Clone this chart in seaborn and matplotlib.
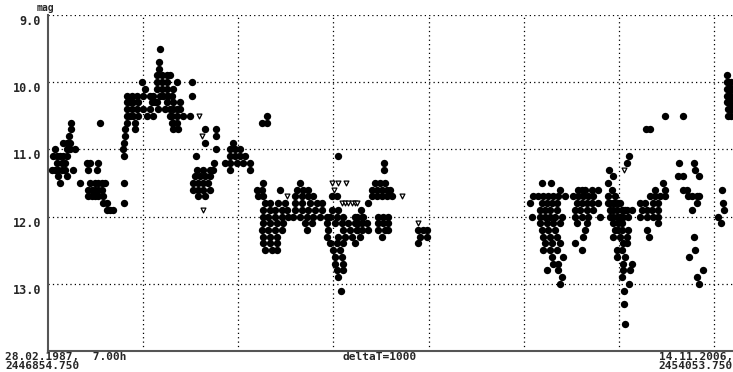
import matplotlib
matplotlib.use("Agg")
import matplotlib.pyplot as plt
import pandas as pd
import seaborn as sns

# light curve, days counted from JD 2446854.750
jd_start = 2446854.750
jd_end = 2454053.750
y_ticks = [9.0, 10.0, 11.0, 12.0, 13.0]
y_labels = ["9.0", "10.0", "11.0", "12.0", "13.0"]

season_1 = [
    (242, 10.6), (546, 10.6), (242, 10.7), (221, 10.8), (161, 10.9), (196, 10.9), (231, 10.9),
    (74, 11.0), (196, 11.0), (231, 11.0), (284, 11.0), (56, 11.1), (91, 11.1), (126, 11.1),
    (161, 11.1), (196, 11.1), (91, 11.2), (144, 11.2), (179, 11.2), (39, 11.3), (74, 11.3),
    (109, 11.3), (144, 11.3), (179, 11.3), (266, 11.3), (109, 11.4), (196, 11.4), (126, 11.5),
    (406, 11.2), (441, 11.2), (529, 11.2), (417, 11.3), (511, 11.3), (336, 11.5), (441, 11.5),
    (494, 11.5), (529, 11.5), (564, 11.5), (599, 11.5), (424, 11.6), (459, 11.6), (494, 11.6),
    (529, 11.6), (564, 11.6), (424, 11.7), (459, 11.7), (494, 11.7), (529, 11.7), (582, 11.7),
    (582, 11.8), (617, 11.8), (617, 11.9), (652, 11.9), (687, 11.9), (799, 11.5), (799, 11.8),
]

season_2 = [
    (802, 11.1), (792, 11.0), (802, 10.9), (809, 10.8), (809, 10.7), (914, 10.7), (827, 10.6),
    (914, 10.6), (827, 10.5), (862, 10.5), (897, 10.5), (949, 10.5), (827, 10.4), (879, 10.4),
    (932, 10.4), (827, 10.3), (862, 10.3), (897, 10.3), (949, 10.3), (827, 10.2), (879, 10.2),
    (932, 10.2), (1177, 9.5), (1170, 9.7), (1170, 9.8), (1142, 9.9), (1195, 9.9), (1247, 9.9),
    (1282, 9.9), (984, 10.0), (1142, 10.0), (1195, 10.0), (1247, 10.0), (1352, 10.0),
    (1510, 10.0), (1019, 10.1), (1142, 10.1), (1195, 10.1), (1247, 10.1), (1317, 10.1),
    (1002, 10.2), (1072, 10.2), (1107, 10.2), (1177, 10.2), (1212, 10.2), (1247, 10.2),
    (1265, 10.2), (1300, 10.2), (1510, 10.2), (1089, 10.3), (1124, 10.3), (1142, 10.3),
    (1247, 10.3), (1317, 10.3), (1387, 10.3), (1002, 10.4), (1072, 10.4), (1160, 10.4),
    (1230, 10.4), (1282, 10.4), (1317, 10.4), (1352, 10.4), (1387, 10.4), (1037, 10.5),
    (1107, 10.5), (1282, 10.5), (1300, 10.5), (1352, 10.5), (1422, 10.5), (1492, 10.5),
    (1300, 10.6), (1317, 10.6), (1352, 10.6), (1317, 10.7), (1370, 10.7),
]

season_3 = [
    (1650, 10.7), (1766, 10.7), (1766, 10.8), (1650, 10.9), (1948, 10.9), (1766, 11.0),
    (1913, 11.0), (1965, 11.0), (2018, 11.0), (1555, 11.1), (1913, 11.1), (1965, 11.1),
    (2018, 11.1), (2070, 11.1), (1748, 11.2), (1860, 11.2), (1913, 11.2), (1983, 11.2),
    (2053, 11.2), (2123, 11.2), (1562, 11.3), (1632, 11.3), (1703, 11.3), (1738, 11.3),
    (1913, 11.3), (2123, 11.3), (1545, 11.4), (1597, 11.4), (1650, 11.4), (1703, 11.4),
    (1527, 11.5), (1580, 11.5), (1632, 11.5), (1685, 11.5), (1527, 11.6), (1580, 11.6),
    (1632, 11.6), (1703, 11.6), (1580, 11.7), (1650, 11.7), (2298, 10.5), (2246, 10.6),
    (2298, 10.6),
]

season_4 = [
    (2263, 11.5), (2648, 11.5), (2193, 11.6), (2246, 11.6), (2438, 11.6), (2613, 11.6),
    (2684, 11.6), (2736, 11.6), (2211, 11.7), (2263, 11.7), (2596, 11.7), (2666, 11.7),
    (2736, 11.7), (2789, 11.7), (2281, 11.8), (2333, 11.8), (2421, 11.8), (2491, 11.8),
    (2596, 11.8), (2666, 11.8), (2754, 11.8), (2824, 11.8), (2876, 11.8), (2263, 11.9),
    (2333, 11.9), (2386, 11.9), (2456, 11.9), (2508, 11.9), (2596, 11.9), (2666, 11.9),
    (2736, 11.9), (2806, 11.9), (2876, 11.9), (2263, 12.0), (2316, 12.0), (2386, 12.0),
    (2456, 12.0), (2526, 12.0), (2578, 12.0), (2648, 12.0), (2719, 12.0), (2789, 12.0),
    (2859, 12.0), (2929, 12.0), (2263, 12.1), (2333, 12.1), (2403, 12.1), (2473, 12.1),
    (2701, 12.1), (2771, 12.1), (2246, 12.2), (2316, 12.2), (2386, 12.2), (2456, 12.2),
    (2719, 12.2), (2263, 12.3), (2333, 12.3), (2403, 12.3), (2263, 12.4), (2333, 12.4),
    (2403, 12.4), (2281, 12.5), (2351, 12.5), (2403, 12.5),
    (3044, 11.1), (2988, 11.7), (3034, 11.7), (2981, 11.9), (3051, 11.9), (2964, 12.0),
    (3034, 12.0), (3104, 12.0), (3226, 12.0), (3297, 12.0), (2929, 12.1), (3016, 12.1),
    (3086, 12.1), (3156, 12.1), (3226, 12.1), (3297, 12.1), (2946, 12.2), (3104, 12.2),
    (3174, 12.2), (3244, 12.2), (2929, 12.3), (3051, 12.3), (3121, 12.3), (3191, 12.3),
    (2964, 12.4), (3034, 12.4), (3104, 12.4), (2999, 12.5), (3069, 12.5), (3016, 12.6),
    (3086, 12.6), (3016, 12.7), (3104, 12.7), (3034, 12.8), (3104, 12.8), (3051, 12.9),
    (3079, 13.1),
]

season_5 = [
    (3535, 11.2), (3528, 11.3), (3437, 11.5), (3489, 11.5), (3542, 11.5), (3402, 11.6),
    (3454, 11.6), (3507, 11.6), (3559, 11.6), (3594, 11.6), (3402, 11.7), (3454, 11.7),
    (3507, 11.7), (3559, 11.7), (3612, 11.7), (3360, 11.8), (3290, 11.9), (3244, 12.0),
    (3314, 12.0), (3472, 12.0), (3524, 12.0), (3577, 12.0), (3262, 12.1), (3349, 12.1),
    (3472, 12.1), (3524, 12.1), (3577, 12.1), (3244, 12.2), (3297, 12.2), (3367, 12.2),
    (3472, 12.2), (3542, 12.2), (3577, 12.2), (3279, 12.3), (3507, 12.3), (3227, 12.4),
    (3892, 12.2), (3945, 12.2), (3980, 12.2), (3910, 12.3), (3980, 12.3), (3892, 12.4),
]

season_6 = [
    (5188, 11.5), (5283, 11.5), (5381, 11.6), (5574, 11.6), (5609, 11.6), (5644, 11.6),
    (5714, 11.6), (5784, 11.6), (5101, 11.7), (5153, 11.7), (5206, 11.7), (5258, 11.7),
    (5311, 11.7), (5364, 11.7), (5434, 11.7), (5521, 11.7), (5574, 11.7), (5626, 11.7),
    (5679, 11.7), (5731, 11.7), (5066, 11.8), (5188, 11.8), (5241, 11.8), (5293, 11.8),
    (5346, 11.8), (5556, 11.8), (5609, 11.8), (5661, 11.8), (5714, 11.8), (5784, 11.8),
    (5171, 11.9), (5223, 11.9), (5276, 11.9), (5346, 11.9), (5539, 11.9), (5591, 11.9),
    (5661, 11.9), (5731, 11.9), (5083, 12.0), (5171, 12.0), (5223, 12.0), (5276, 12.0),
    (5329, 12.0), (5399, 12.0), (5539, 12.0), (5609, 12.0), (5679, 12.0), (5801, 12.0),
    (5171, 12.1), (5241, 12.1), (5311, 12.1), (5381, 12.1), (5556, 12.1), (5661, 12.1),
    (5188, 12.2), (5258, 12.2), (5329, 12.2), (5644, 12.2), (5206, 12.3), (5276, 12.3),
    (5346, 12.3), (5626, 12.3), (5223, 12.4), (5293, 12.4), (5381, 12.4), (5539, 12.4),
    (5206, 12.5), (5276, 12.5), (5346, 12.5), (5609, 12.5), (5293, 12.6), (5416, 12.6),
    (5311, 12.7), (5364, 12.7), (5241, 12.8), (5364, 12.8), (5399, 12.9), (5381, 13.0),
]

season_7 = [
    (6110, 11.1), (6082, 11.2), (5900, 11.3), (5935, 11.4), (5889, 11.5), (5924, 11.6),
    (5889, 11.7), (5959, 11.7), (5889, 11.8), (5907, 11.8), (5942, 11.8), (5959, 11.8),
    (5994, 11.8), (6012, 11.8), (5907, 11.9), (5942, 11.9), (5977, 11.9), (6029, 11.9),
    (6047, 11.9), (6064, 11.9), (6082, 11.9), (6134, 11.9), (5907, 12.0), (5942, 12.0),
    (5977, 12.0), (6012, 12.0), (6047, 12.0), (6099, 12.0), (5942, 12.1), (5994, 12.1),
    (6029, 12.1), (5959, 12.2), (5994, 12.2), (6029, 12.2), (6099, 12.2), (5942, 12.3),
    (6012, 12.3), (6082, 12.3), (6047, 12.4), (6082, 12.4), (5977, 12.5), (6029, 12.5),
    (5977, 12.6), (6064, 12.6), (6047, 12.7), (6134, 12.7), (6047, 12.8), (6117, 12.8),
    (6029, 12.9), (6110, 13.0), (6054, 13.1), (6054, 13.3), (6064, 13.6),
    (6281, 10.7), (6327, 10.7), (6485, 10.5), (6677, 10.5), (6467, 11.5), (6380, 11.6),
    (6485, 11.6), (6327, 11.7), (6380, 11.7), (6432, 11.7), (6485, 11.7), (6222, 11.8),
    (6274, 11.8), (6362, 11.8), (6415, 11.8), (6239, 11.9), (6292, 11.9), (6344, 11.9),
    (6415, 11.9), (6222, 12.0), (6292, 12.0), (6362, 12.0), (6415, 12.0), (6415, 12.1),
    (6299, 12.2), (6320, 12.3),
    (6632, 11.2), (6789, 11.2), (6800, 11.3), (6625, 11.4), (6677, 11.4), (6842, 11.4),
    (6677, 11.6), (6712, 11.6), (6730, 11.7), (6765, 11.7), (6817, 11.7), (6845, 11.7),
    (6817, 11.8), (6772, 11.9), (6793, 12.3), (6800, 12.5), (6740, 12.6), (6880, 12.8),
    (6824, 12.9), (6845, 13.0),
    (7080, 11.6), (7091, 11.8), (7108, 11.9), (7045, 12.0), (7070, 12.1),
    (7133, 9.9), (7140, 10.0), (7160, 10.0), (7180, 10.0), (7133, 10.1), (7155, 10.1),
    (7175, 10.1), (7190, 10.1), (7140, 10.2), (7160, 10.2), (7180, 10.2), (7133, 10.3),
    (7155, 10.3), (7175, 10.3), (7190, 10.3), (7145, 10.4), (7165, 10.4), (7185, 10.4),
    (7150, 10.5), (7175, 10.5),
]

# "fainter than" estimates
fainter_than = [
    (1590, 10.5), (1615, 10.8), (1625, 11.9), (2508, 11.7), (2988, 11.5), (3044, 11.5),
    (3128, 11.5), (3009, 11.6), (3086, 11.8), (3121, 11.8), (3156, 11.8), (3191, 11.8),
    (3226, 11.8), (3244, 11.8), (3717, 11.7), (3892, 12.1), (6054, 11.3),
]

seasons = [season_1, season_2, season_3, season_4, season_5, season_6, season_7]
df = pd.concat([pd.DataFrame(s, columns=["day", "mag"]) for s in seasons])
lim = pd.DataFrame(fainter_than, columns=["day", "mag"])

sns.set_style("white")
plt.rcParams["font.family"] = ["DejaVu Sans Mono", "DejaVu Sans"]
plt.rcParams["font.weight"] = "bold"

W, H = 733, 372
fig = plt.figure(figsize=(W / 100, H / 100), dpi=100)
ax = fig.add_axes([48 / W, (H - 351) / H, (W - 48) / W, 336 / H])

sns.scatterplot(data=df, x="day", y="mag", color="black", marker="o", s=28,
                linewidth=0, ax=ax, zorder=3)
sns.scatterplot(data=lim, x="day", y="mag", marker="v", s=12, color="white",
                edgecolor="black", linewidth=0.9, ax=ax, zorder=3)

ax.set_xlim(0, jd_end - jd_start)
ax.set_ylim(14.0, 9.0)
ax.set_xticks(range(1000, 8000, 1000))
ax.set_yticks(y_ticks)
ax.set_yticklabels(y_labels, fontsize=8.5, fontweight="bold")
for lab in ax.get_yticklabels():
    lab.set_va("top")
ax.grid(True, color="black", linestyle=(0, (1, 2.5)), linewidth=0.9)
for side in ["top", "right"]:
    ax.spines[side].set_visible(False)
for side in ["left", "bottom"]:
    ax.spines[side].set_color("#555555")
    ax.spines[side].set_linewidth(1.5)
ax.tick_params(axis="x", length=3, color="#555555", labelbottom=False)
ax.tick_params(axis="y", length=0, pad=5)
ax.set_xlabel("")
ax.set_ylabel("")

def put(x, y, s, ha="left", size=8):
    fig.text(x / W, 1 - y / H, s, ha=ha, va="top", fontsize=size,
             fontweight="bold", linespacing=0.85, multialignment=ha)

put(45, 3, "mag", ha="center", size=7)
put(5, 352, "28.02.1987,  7.00h\n2446854.750")
put(380, 352, "deltaT=1000", ha="center")
put(733, 352, "14.11.2006,\n2454053.750", ha="right")

fig.savefig("out.png", dpi=100)
